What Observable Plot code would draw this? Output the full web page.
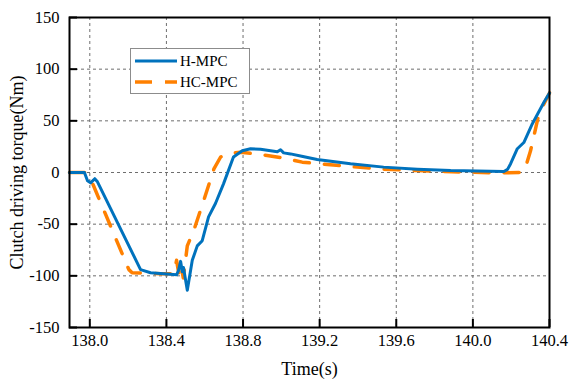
<!DOCTYPE html>
<html>
<head>
<meta charset="utf-8">
<script src="https://cdn.jsdelivr.net/npm/d3@7"></script>
<script src="https://cdn.jsdelivr.net/npm/@observablehq/plot@0.6"></script>
<style>
  html, body { margin: 0; padding: 0; background: #fff; }
  #chart { width: 570px; height: 379px; }
  #chart svg, #chart svg text { font-family: "Liberation Serif", "Times New Roman", serif; }
</style>
</head>
<body>
<div id="chart"></div>
<script>
// Data
const seriesNames = ["H-MPC", "HC-MPC"];

const hmpcTime = [137.894, 137.972, 137.988, 138.004, 138.026, 138.040, 138.265, 138.317, 138.453, 138.463, 138.474, 138.483, 138.489, 138.509, 138.535, 138.561, 138.587, 138.620, 138.656, 138.698, 138.750, 138.796, 138.839, 138.891, 138.979, 138.996, 139.012, 139.048, 139.100, 139.187, 139.361, 139.534, 139.710, 139.884, 140.162, 140.181, 140.197, 140.232, 140.266, 140.310, 140.371, 140.400];
const hmpcTorque = [0, 0, -8, -10, -6, -9, -94, -97, -99, -95, -86, -96, -92, -114, -85, -71, -66, -43, -30, -11, 15, 21, 23, 22.5, 20, 22, 19, 18, 16, 12.5, 8.4, 5.2, 3.2, 1.9, 1, 3, 8.5, 23, 29, 47, 68, 77];

const hcmpcTime = [137.894, 137.972, 138.004, 138.204, 138.221, 138.369, 138.439, 138.453, 138.465, 138.477, 138.488, 138.509, 138.543, 138.595, 138.648, 138.683, 138.717, 138.787, 138.865, 138.926, 139.031, 139.109, 139.205, 139.361, 139.535, 139.710, 139.971, 140.127, 140.260, 140.275, 140.301, 140.345, 140.400];
const hcmpcTorque = [0, 0, -6, -94, -97, -98, -98, -85, -98, -90, -102, -71, -56, -27, 3.5, 15, 18, 19.7, 18, 16.5, 13.3, 10, 8.4, 5.8, 3.2, 1.9, 0.3, -0.3, 0, 5, 21, 57, 77];

const xTicks = [138.0, 138.4, 138.8, 139.2, 139.6, 140.0, 140.4];
const yTicks = [-150, -100, -50, 0, 50, 100, 150];
const xLabel = "Time(s)";
const yLabel = "Clutch driving torque(Nm)";

const hmpc = hmpcTime.map((t, i) => ({t, v: hmpcTorque[i]}));
const hcmpc = hcmpcTime.map((t, i) => ({t, v: hcmpcTorque[i]}));

const colors = ["#0072BD", "#FF8000"];
const font = "'Liberation Serif', 'Times New Roman', serif";

const W = 570, H = 379;
const mL = 69, mR = 21, mT = 17, mB = 52;
const frameW = W - mL - mR, frameH = H - mT - mB;
const tickLen = 8;

const plot = Plot.plot({
  width: W,
  height: H,
  marginLeft: mL,
  marginRight: mR,
  marginTop: mT,
  marginBottom: mB,
  style: {fontFamily: font, fontSize: "16px", color: "black", background: "white"},
  x: {domain: [137.894, 140.4]},
  y: {domain: [-150, 150]},
  marks: [
    Plot.gridX(xTicks, {stroke: "#6e6e6e", strokeOpacity: 1, strokeDasharray: "3,3", strokeWidth: 1}),
    Plot.gridY(yTicks, {stroke: "#6e6e6e", strokeOpacity: 1, strokeDasharray: "3,3", strokeWidth: 1}),
    Plot.axisX(xTicks, {tickSize: 0, tickPadding: 7, tickFormat: d => d.toFixed(1), fontSize: 16.5, fontFamily: font, label: null}),
    Plot.axisY(yTicks, {tickSize: 0, tickPadding: 10, tickFormat: d => String(d), fontSize: 16.5, fontFamily: font, label: null}),
    Plot.ruleX(xTicks, {insetTop: frameH - tickLen, stroke: "black", strokeWidth: 2}),
    Plot.ruleY(yTicks, {insetRight: frameW - tickLen, stroke: "black", strokeWidth: 2}),
    Plot.line(hcmpc, {x: "t", y: "v", stroke: colors[1], strokeWidth: 3.5, strokeDasharray: "15,15"}),
    Plot.line(hmpc, {x: "t", y: "v", stroke: colors[0], strokeWidth: 3}),
    Plot.frame({stroke: "black", strokeWidth: 2}),
    Plot.text([xLabel], {frameAnchor: "bottom", textAnchor: "middle", lineAnchor: "middle", dy: 42, fontSize: 18, fontFamily: font, fill: "black"}),
    Plot.text([yLabel], {frameAnchor: "left", textAnchor: "middle", lineAnchor: "middle", dx: -52, rotate: -90, fontSize: 18, fontFamily: font, fill: "black"})
  ]
});

document.getElementById("chart").appendChild(plot);

// Legend (box with line samples and labels)
const svg = d3.select(plot);
const lg = svg.append("g").attr("class", "legend").attr("text-anchor", "start");
lg.append("rect").attr("x", 130.5).attr("y", 48.5).attr("width", 119).attr("height", 45)
  .attr("fill", "white").attr("stroke", "#8c8c8c").attr("stroke-width", 1);
const rows = [{y: 61, dash: null}, {y: 82, dash: "17,13"}];
seriesNames.forEach((name, i) => {
  lg.append("line").attr("x1", 135).attr("x2", 177).attr("y1", rows[i].y).attr("y2", rows[i].y)
    .attr("stroke", colors[i]).attr("stroke-width", i ? 3.5 : 3)
    .attr("stroke-dasharray", rows[i].dash);
  lg.append("text").attr("x", 180).attr("y", rows[i].y + 5)
    .attr("text-anchor", "start")
    .style("font-family", font).style("font-size", "15px").attr("fill", "black").text(name);
});
</script>
</body>
</html>
